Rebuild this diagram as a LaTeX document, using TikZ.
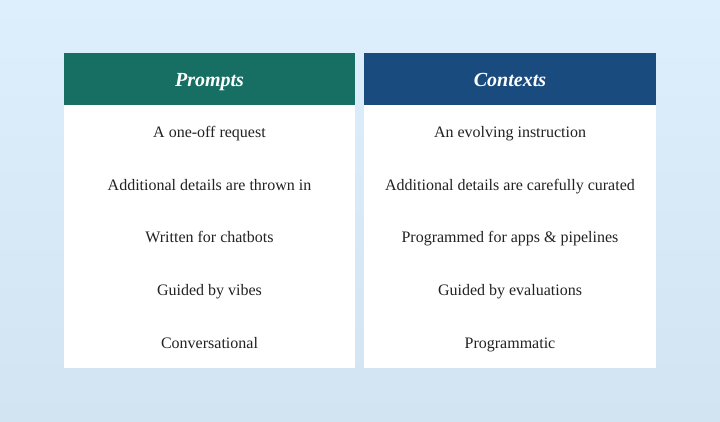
\documentclass[tikz,border=0pt]{standalone}
\usepackage{fontspec}
\setmainfont{Liberation Serif}
\usepackage{tikz}
\usepackage{xcolor}
\definecolor{bg-top}{HTML}{DDEFFC}
\definecolor{bg-bottom}{HTML}{D2E4F1}
\definecolor{prompt-teal}{HTML}{166F62}
\definecolor{context-blue}{HTML}{1A4B7E}
\definecolor{row-text}{HTML}{222222}
\tikzset{
    head-box/.style = {rectangle, inner sep=0pt, minimum width=291.5pt, minimum height=51.5pt, text=white, font=\fontsize{20}{24}\selectfont\bfseries\itshape, text height=15.5pt, text depth=0pt},
    body-box/.style = {rectangle, fill=white, inner sep=0pt, minimum width=291.5pt, minimum height=263pt},
    row-label/.style = {anchor=base, inner sep=0pt, text=row-text, font=\fontsize{16}{19}\selectfont},
}

\begin{document}
\begin{tikzpicture}[x=1pt, y=-1pt]
\shade[top color=bg-top, bottom color=bg-bottom] (0,0) rectangle (720,422);
\useasboundingbox (0,0) rectangle (720,422);

% left table
\node[head-box, fill=prompt-teal] (prompts-head) at (209.5,79.25) {Prompts};
\node[body-box, anchor=north] (prompts-body) at (prompts-head.south) {};
\node[row-label] (p-one) at (209.5,138) {A one-off request};
\node[row-label] (p-two) at (209.5,190.5) {Additional details are thrown in};
\node[row-label] (p-three) at (209.5,243) {Written for chatbots};
\node[row-label] (p-four) at (209.5,295.5) {Guided by vibes};
\node[row-label] (p-five) at (209.5,348) {Conversational};

% right table
\node[head-box, fill=context-blue] (contexts-head) at (510,79.25) {Contexts};
\node[body-box, anchor=north] (contexts-body) at (contexts-head.south) {};
\node[row-label] (c-one) at (510,138) {An evolving instruction};
\node[row-label] (c-two) at (510,190.5) {Additional details are carefully curated};
\node[row-label] (c-three) at (510,243) {Programmed for apps \& pipelines};
\node[row-label] (c-four) at (510,295.5) {Guided by evaluations};
\node[row-label] (c-five) at (510,348) {Programmatic};
\end{tikzpicture}
\end{document}
